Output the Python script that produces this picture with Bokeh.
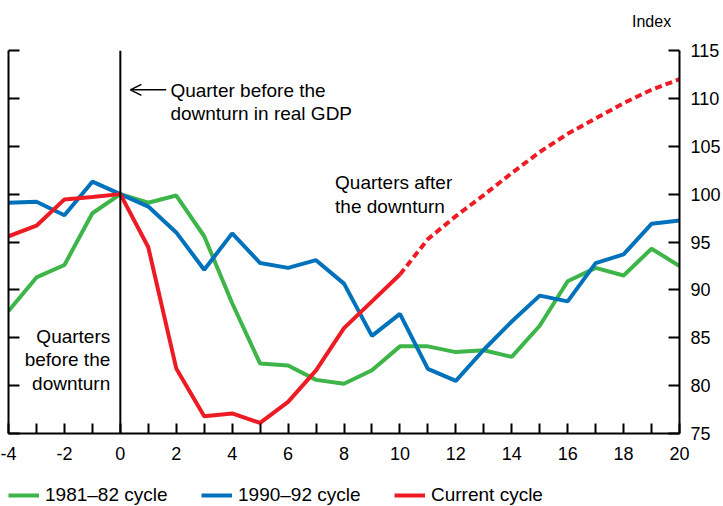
from bokeh.plotting import figure
from bokeh.layouts import column
from bokeh.models import (Range1d, LinearAxis, FixedTicker, Span, Label, Arrow, OpenHead,
                          Legend, LegendItem, CustomJSTickFormatter)
from bokeh.embed import file_html
from bokeh.resources import INLINE

# ---- data (index, quarter before downturn = 100) ----
quarters = list(range(-4, 21))
cycle_1981 = [87.8, 91.3, 92.6, 98.0, 100.0, 99.1, 99.85, 95.6, 88.6, 82.3, 82.1, 80.6, 80.2,
              81.6, 84.1, 84.1, 83.5, 83.7, 83.0, 86.25, 90.9, 92.3, 91.5, 94.3, 92.5]
cycle_1990 = [99.1, 99.2, 97.8, 101.3, 100.0, 98.7, 96.0, 92.1, 95.9, 92.8, 92.3, 93.1, 90.65,
              85.2, 87.5, 81.75, 80.5, 83.75, 86.7, 89.4, 88.8, 92.8, 93.7, 96.9, 97.25]
current_q = list(range(-4, 11))
current = [95.6, 96.7, 99.45, 99.7, 100.0, 94.45, 81.8, 76.8, 77.1, 76.1, 78.3, 81.6, 86.0,
           88.8, 91.6]
proj_q = list(range(10, 21))
projection = [91.6, 95.3, 97.7, 99.9, 102.2, 104.4, 106.3, 107.9, 109.5, 110.9, 112.0]

x_major = list(range(-4, 21, 2))
x_minor = list(range(-3, 21, 2))
x_labels = {-4: "-4", -2: "-2"}
y_ticks = list(range(75, 116, 5))

series_names = ["1981\u201382 cycle", "1990\u201392 cycle", "Current cycle"]
unit_label = "Index"

GREEN = "#3DB549"
BLUE = "#0072BC"
RED = "#ED1C24"
FONT = "Liberation Sans"


def strip(height, x_range, y_range):
    f = figure(width=723, height=height, x_range=x_range, y_range=y_range,
               output_backend="svg", toolbar_location=None, title=None,
               x_axis_location=None, y_axis_location=None, min_border=0)
    f.grid.visible = False
    f.outline_line_color = None
    f.background_fill_color = "white"
    f.border_fill_color = "white"
    return f


# top strip holding the unit label (screen-like coordinates, 1 unit = 1 px)
pt = strip(40, Range1d(0, 723), Range1d(0, 40))
pt.add_layout(Label(x=714, y=19, text=unit_label, text_align="right", text_baseline="middle",
                    text_font=FONT, text_font_size="16px", text_color="black"))

# main chart
p = figure(width=723, height=433, x_range=Range1d(-4, 20), y_range=Range1d(75, 115),
           output_backend="svg", toolbar_location=None, title=None,
           x_axis_location=None, y_axis_location=None,
           min_border_left=8, min_border_right=43, min_border_top=10, min_border_bottom=40)
p.grid.visible = False
p.outline_line_color = None
p.background_fill_color = "white"
p.border_fill_color = "white"

# axes
xaxis = LinearAxis(ticker=FixedTicker(ticks=x_major, minor_ticks=x_minor),
                   major_label_overrides=x_labels,
                   major_tick_in=10, major_tick_out=0, minor_tick_in=10, minor_tick_out=0,
                   major_tick_line_width=2, minor_tick_line_width=2, axis_line_width=2,
                   major_label_standoff=13, major_label_text_font=FONT,
                   major_label_text_font_size="18px", major_label_text_color="black")
p.add_layout(xaxis, "below")

yleft = LinearAxis(ticker=FixedTicker(ticks=y_ticks),
                   formatter=CustomJSTickFormatter(code="return ''"),
                   major_tick_in=11, major_tick_out=0, minor_tick_line_color=None,
                   major_tick_line_width=2, axis_line_width=2, major_label_standoff=0)
p.add_layout(yleft, "left")

yright = LinearAxis(ticker=FixedTicker(ticks=y_ticks),
                    major_tick_in=11, major_tick_out=0, minor_tick_line_color=None,
                    major_tick_line_width=2, axis_line_width=2, major_label_standoff=11,
                    major_label_text_font=FONT, major_label_text_font_size="18px",
                    major_label_text_color="black")
p.add_layout(yright, "right")

# vertical line at quarter 0
p.add_layout(Span(location=0, dimension="height", line_color="black", line_width=2))

# series
p.line(quarters, cycle_1981, line_color=GREEN, line_width=4)
p.line(quarters, cycle_1990, line_color=BLUE, line_width=4)
p.line(current_q, current, line_color=RED, line_width=4)
p.line(proj_q, projection, line_color=RED, line_width=4, line_dash="7 4")

# annotations
p.add_layout(Arrow(end=OpenHead(size=11, line_width=1.5, line_color="black"),
                   x_start=1.64, y_start=110.89, x_end=0.36, y_end=110.89,
                   line_width=1.5, line_color="black"))
ann = dict(text_font=FONT, text_font_size="19px", text_color="black", text_baseline="middle")
p.add_layout(Label(x=1.79, y=110.85, text="Quarter before the", text_align="left", **ann))
p.add_layout(Label(x=1.79, y=108.45, text="downturn in real GDP", text_align="left", **ann))
p.add_layout(Label(x=7.68, y=101.2, text="Quarters after", text_align="left", **ann))
p.add_layout(Label(x=7.68, y=98.75, text="the downturn", text_align="left", **ann))
p.add_layout(Label(x=-0.36, y=85.14, text="Quarters", text_align="right", **ann))
p.add_layout(Label(x=-0.36, y=82.74, text="before the", text_align="right", **ann))
p.add_layout(Label(x=-0.36, y=80.23, text="downturn", text_align="right", **ann))

# legend strip below the chart (hidden copies of the series give the legend glyphs)
pl = strip(33, Range1d(-4, 20), Range1d(75, 115))
l1 = pl.line(quarters, cycle_1981, line_color=GREEN, line_width=4, visible=False)
l2 = pl.line(quarters, cycle_1990, line_color=BLUE, line_width=4, visible=False)
l3 = pl.line(current_q, current, line_color=RED, line_width=4, visible=False)

legend = Legend(items=[LegendItem(label=series_names[0], renderers=[l1]),
                       LegendItem(label=series_names[1], renderers=[l2]),
                       LegendItem(label=series_names[2], renderers=[l3])],
                location=(0, 0), orientation="horizontal",
                glyph_width=31, glyph_height=20, label_height=20, label_width=156,
                label_standoff=6, spacing=0, padding=0, margin=0,
                border_line_color=None, background_fill_alpha=0,
                inactive_fill_alpha=0,
                label_text_font=FONT, label_text_font_size="19px", label_text_color="black")
pl.add_layout(legend)

open("out.html", "w").write(file_html(column(pt, p, pl, spacing=0), INLINE))
